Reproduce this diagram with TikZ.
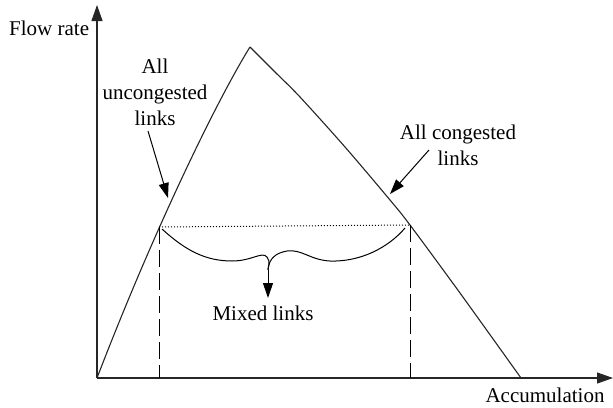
\documentclass[tikz,border=0pt]{standalone}
\usepackage{fontspec}
\setmainfont{Liberation Serif}
\usetikzlibrary{arrows.meta}
\begin{document}
\begin{tikzpicture}[x=1pt,y=-1pt,
  lbl/.style={font=\fontsize{21}{26}\selectfont, align=center, inner sep=0pt},
  ln/.style={line width=1.1pt, black!85},
  tip/.style={-{Triangle[length=16pt,width=11pt]}},
  ptr/.style={line width=1pt,-{Triangle[length=15pt,width=10pt]}},
  dsh/.style={line width=0.9pt,dash pattern=on 17pt off 6pt}]
\useasboundingbox (0,0) rectangle (613,407);
\coordinate (O) at (97,378);
\coordinate (Ytop) at (97,5);
\coordinate (Xend) at (613,378);
\coordinate (P) at (250,47);
\coordinate (L) at (159,227);
\coordinate (R) at (410,225);
\coordinate (E) at (521,378);
\coordinate (Lb) at (159,378);
\coordinate (Rb) at (410,378);
% axes
\draw[ln,tip] (O) -- (Ytop);
\draw[ln,tip] (O) -- (Xend);
% MFD curve
\draw[ln] (O) .. controls (157,222) and (220,95) .. (P);
\draw[ln] plot[smooth,tension=0.5] coordinates {(250,47) (275,72) (300,97) (345,147) (390,200) (410,225) (460,293) (521,378)};
% dotted and dashed lines
\draw[line width=1pt,dotted] (L) -- (R);
\draw[dsh] (L) -- (Lb);
\draw[dsh] (R) -- (Rb);
% mixed links brace
\coordinate (M) at (268,270);
\coordinate (Mt) at (268,298);
\draw[line width=1pt] (162,229) .. controls (185,250) and (205,261) .. (232,261)
  .. controls (252,261) and (262,251) .. (267,257) .. controls (271,262) and (268,266) .. (M);
\draw[line width=1pt] (405,228) .. controls (388,248) and (360,262) .. (330,261)
  .. controls (310,260) and (302,249) .. (287,251) .. controls (276,253) and (269,258) .. (M);
\draw[ptr] (M) -- (Mt);
% labels
\node[lbl,anchor=base west] (fr) at (9,35) {Flow rate};
\node[lbl,anchor=base] (acc) at (545,402) {Accumulation};
\node[lbl,anchor=base] (mx) at (263,320) {Mixed links};
\node[lbl] (unc) at (155,92) {All\\uncongested\\links};
\node[lbl] (cong) at (458,145) {All congested\\links};
\coordinate (ua) at (168,198);
\coordinate (ca) at (390,194);
\draw[ptr] (148,131) -- (ua);
\draw[ptr] (429,150) -- (ca);
\end{tikzpicture}
\end{document}
